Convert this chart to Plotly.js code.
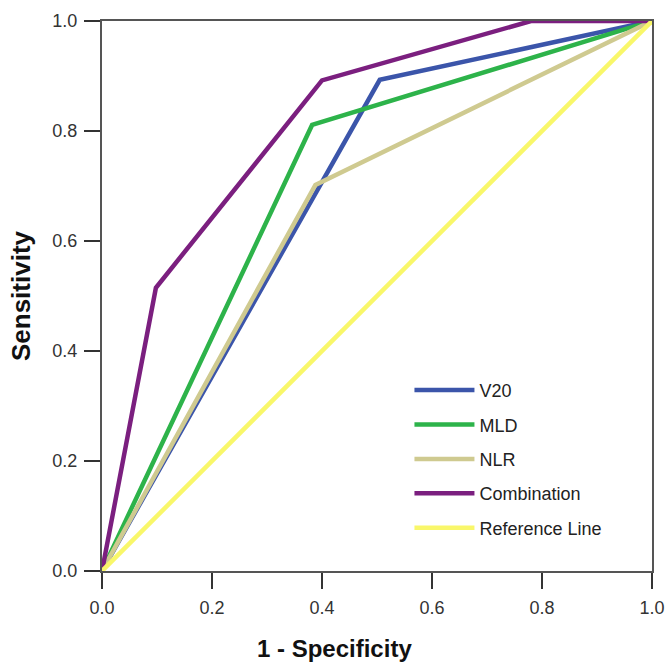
<!DOCTYPE html>
<html>
<head>
<meta charset="utf-8">
<script src="https://cdn.plot.ly/plotly-3.0.1.min.js"></script>
<style>html,body{margin:0;padding:0;background:#fff;}#chart{width:665px;height:662px;}</style>
</head>
<body>
<div id="chart"></div>
<script>
const seriesNames = ["V20", "MLD", "NLR", "Combination", "Reference Line"];
const v20X = [0, 0.505, 1];
const v20Y = [0, 0.893, 1];
const mldX = [0, 0.382, 1];
const mldY = [0, 0.811, 1];
const nlrX = [0, 0.388, 1];
const nlrY = [0, 0.702, 1];
const comboX = [0, 0.098, 0.40, 0.78, 1];
const comboY = [0, 0.515, 0.892, 1, 1];
const refX = [0, 1];
const refY = [0, 1];
const tickVals = [0, 0.2, 0.4, 0.6, 0.8, 1.0];
const tickText = ["0.0", "0.2", "0.4", "0.6", "0.8", "1.0"];
const colors = ["#3b55aa", "#2db34a", "#cfca90", "#7b1f7f", "#f9f76a"];

const xs = [v20X, mldX, nlrX, comboX, refX];
const ys = [v20Y, mldY, nlrY, comboY, refY];
const traces = seriesNames.map((n, i) => ({
  x: xs[i], y: ys[i], name: n, type: "scatter", mode: "lines",
  legendgroup: "g" + i,
  line: {color: colors[i], width: 4.5},
  hoverinfo: "skip"
}));

const font = "Liberation Sans, Arial, sans-serif";
const layout = {
  width: 665, height: 662,
  margin: {l: 102, r: 13, t: 21, b: 91},
  paper_bgcolor: "#fff", plot_bgcolor: "#fff",
  showlegend: true,
  legend: {
    x: 0.559, y: 0.362, xanchor: "left", yanchor: "top",
    bgcolor: "rgba(0,0,0,0)", borderwidth: 0,
    font: {family: font, size: 18, color: "#222"},
    tracegroupgap: 8, itemwidth: 60, traceorder: "grouped"
  },
  xaxis: {
    range: [0, 1], tickvals: tickVals, ticktext: tickText,
    showgrid: false, zeroline: false, showline: true, mirror: true,
    linecolor: "#555", linewidth: 2, ticks: "outside", ticklen: 16, tickwidth: 2, tickcolor: "#333",
    ticklabelstandoff: 3,
    tickfont: {family: font, size: 18, color: "#333"}, fixedrange: true
  },
  yaxis: {
    range: [0, 1], tickvals: tickVals, ticktext: tickText,
    showgrid: false, zeroline: false, showline: true, mirror: true,
    linecolor: "#555", linewidth: 2, ticks: "outside", ticklen: 16, tickwidth: 2, tickcolor: "#333",
    ticklabelstandoff: 3,
    tickfont: {family: font, size: 18, color: "#333"},
    title: {text: "<b>Sensitivity</b>", font: {family: font, size: 26, color: "#111"}, standoff: 14},
    fixedrange: true
  },
  annotations: [{
    text: "<b>1 - Specificity</b>", xref: "paper", yref: "paper",
    x: (334 - 102) / 550, y: -0.14, xanchor: "center", yanchor: "middle", showarrow: false,
    font: {family: font, size: 24, color: "#111"}
  }]
};
Plotly.newPlot("chart", traces, layout, {displayModeBar: false, staticPlot: true});
</script>
</body>
</html>
